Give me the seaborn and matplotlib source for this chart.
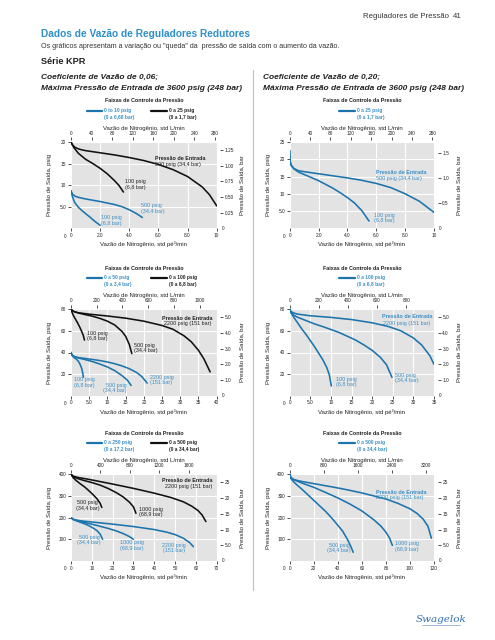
import matplotlib
matplotlib.use("Agg")
import matplotlib.pyplot as plt
import seaborn as sns

W, H = 495, 640
BLUE = "#1b74ad"
TBLUE = "#3b8fc5"
HBLUE = "#2e8fca"
BLACK = "#111111"
GRAY_BG = "#e3e3e3"
TXT = "#222222"
LPM = 28.3168   # L/min per std ft3/min
BAR = 14.5038   # psig per bar

# ---------------- data (flow in std ft3/min, outlet pressure in psig) ----------------
# Panel 1  (Cv 0.06) 0-25 psig range (black), 0-10 psig range (blue)
p1_k500_x = [0, 0.1, 0.3, 0.6, 1, 2, 3, 4, 5, 6, 7, 8, 9, 9.5, 10]
p1_k500_y = [20, 19.3, 18.7, 18.3, 18.0, 17.5, 17.0, 16.4, 15.7, 14.8, 13.6, 12.0, 9.6, 7.8, 5.2]
p1_k100_x = [0, 0.2, 0.5, 1.0, 1.5, 2.0, 2.5, 3.0, 3.3, 3.6]
p1_k100_y = [20, 18.7, 17.4, 16.0, 15.0, 13.9, 12.6, 11.0, 9.9, 8.4]
p1_b500_x = [0, 0.1, 0.3, 0.6, 1.0, 2.0, 3.0, 3.5, 4.0, 4.5, 4.9]
p1_b500_y = [8.7, 7.9, 7.4, 7.1, 6.8, 6.2, 5.5, 5.0, 4.3, 3.4, 2.5]
p1_b100_x = [0, 0.1, 0.25, 0.5, 0.75, 1.0, 1.3, 1.6, 2.0]
p1_b100_y = [8.7, 7.3, 6.0, 4.9, 4.1, 3.4, 2.6, 1.7, 0.7]

# Panel 2  (Cv 0.20) 0-25 psig range
p2_b500_x = [0, 0.02, 0.1, 0.3, 0.6, 1, 2, 3, 4, 5, 6, 7, 8, 9, 10]
p2_b500_y = [22.5, 19.5, 18.3, 17.3, 16.7, 16.4, 15.8, 15.2, 14.6, 13.9, 13.0, 11.8, 10.0, 7.8, 4.6]
p2_b100_x = [0, 0.02, 0.1, 0.3, 0.6, 1, 1.5, 2, 2.5, 3, 3.5, 4, 4.5, 5, 5.5]
p2_b100_y = [22.5, 19.5, 18.2, 17.2, 16.3, 15.6, 14.7, 13.8, 12.7, 11.6, 10.3, 8.9, 7.3, 5.1, 2.1]

# Panel 3  (Cv 0.06) 0-100 psig (black), 0-50 psig (blue)
p3_k2200_x = [0, 0.5, 1, 2, 5, 10, 15, 20, 25, 28, 31, 33, 35, 36.5, 38.2]
p3_k2200_y = [80, 78.5, 77.6, 76.8, 75.5, 73.8, 71.8, 69, 65, 61.5, 55.5, 50, 42, 34, 22]
p3_k500_x = [0, 0.5, 1, 2, 4, 6, 8, 10, 12, 14, 15, 16, 16.7]
p3_k500_y = [80, 78.5, 77.7, 76.6, 75, 73.5, 71.5, 69, 65.5, 59.5, 55, 47.5, 39]
p3_k100_x = [0, 0.3, 0.7, 1.2, 1.8, 2.4, 3.0, 3.4, 3.7]
p3_k100_y = [80, 77, 74, 71, 67.5, 63.5, 59, 55.5, 51.5]
p3_b2200_x = [0, 0.3, 1, 2, 4, 6, 8, 10, 12, 14, 16, 18, 19.5, 20.9]
p3_b2200_y = [40, 37.5, 36, 35.3, 34.4, 33.5, 32.5, 31.2, 29.6, 27.6, 25, 21.5, 17.5, 11.7]
p3_b500_x = [0, 0.3, 1, 2, 4, 6, 8, 10, 12, 14, 15.5, 16.5]
p3_b500_y = [40, 37.5, 36, 35, 33.3, 31.5, 29.2, 26.6, 23.2, 18.6, 14.3, 9.5]
p3_b100_x = [0, 0.3, 0.8, 1.4, 2.0, 2.5, 2.9, 3.2, 3.4]
p3_b100_y = [40, 37.3, 35.5, 34, 32, 29, 25.5, 21.5, 17]

# Panel 4  (Cv 0.20) 0-100 psig
p4_b2200_x = [0, 0.3, 1, 2, 5, 10, 15, 20, 24, 27, 30, 32, 34, 35]
p4_b2200_y = [80, 78, 76.5, 75.5, 74, 72.5, 70.5, 67.5, 64, 60, 53.5, 47, 37, 29]
p4_b500_x = [0, 0.3, 1, 2, 4, 6, 8, 10, 12, 14, 16, 18, 20, 22, 23.5, 24.8]
p4_b500_y = [80, 77, 74.5, 72.5, 69.5, 66.5, 64, 61.3, 58.5, 55, 51.5, 47, 42, 35.5, 28.5, 17]
p4_b100_x = [0, 0.3, 1, 2, 3, 4, 5, 6, 7, 8, 9, 9.6, 10.1]
p4_b100_y = [80, 77, 72.5, 67, 61.5, 56.5, 51, 45.5, 39.5, 33.5, 26, 19.5, 9]

# Panel 5  (Cv 0.06) 0-500 psig (black), 0-250 psig (blue)
p5_k2200_x = [0, 1, 3, 6, 10, 20, 30, 40, 48, 54, 58, 61, 63, 64.8]
p5_k2200_y = [400, 392, 386, 381, 374, 355, 335, 313, 293, 273, 253, 233, 212, 182]
p5_k1000_x = [0, 1, 3, 6, 10, 14, 18, 22, 25, 28, 30, 31.2]
p5_k1000_y = [400, 390, 381, 372, 362, 350, 334, 314, 296, 272, 250, 220]
p5_k500_x = [0, 1, 2.5, 4.5, 6.5, 8.5, 10.5, 12.5, 14, 14.8]
p5_k500_y = [400, 385, 371, 356, 342, 325, 307, 287, 266, 247]
p5_b2200_x = [0, 1, 3, 6, 10, 20, 30, 40, 46, 50, 54, 57, 58.8]
p5_b2200_y = [200, 193, 188, 184, 180, 170, 159, 145, 133, 122, 105, 85, 66]
p5_b1000_x = [0, 1, 3, 6, 10, 14, 18, 22, 25, 28, 30]
p5_b1000_y = [200, 192, 186, 179, 170, 160, 150, 138, 127, 113, 100]
p5_b500_x = [0, 1, 3, 5, 7, 9, 11, 12.5, 14, 15.2]
p5_b500_y = [200, 192, 184, 177, 170, 161, 150, 140, 124, 100]

# Panel 6  (Cv 0.20) 0-500 psig
p6_b2200_x = [0, 1, 3, 6, 10, 20, 30, 40, 50, 60, 70, 80, 90, 100, 106, 111, 115, 117.8]
p6_b2200_y = [400, 385, 377, 372, 367, 357, 347, 337, 326, 314, 300, 286, 266, 241, 219, 193, 160, 105]
p6_b1000_x = [0, 1, 3, 6, 10, 20, 30, 40, 50, 60, 70, 76, 80, 83, 85.4]
p6_b1000_y = [400, 384, 376, 369, 360, 340, 316, 291, 263, 231, 190, 160, 133, 106, 72]
p6_b500_x = [0, 1, 3, 6, 10, 15, 20, 25, 30, 35, 40, 44, 48, 51, 52.8]
p6_b500_y = [400, 380, 367, 351, 332, 306, 280, 254, 228, 198, 165, 138, 100, 65, 40]

# ---------------- ticks ----------------
p1_xticks = [0, 2, 4, 6, 8, 10]; p1_xlabels = ["0", "2.0", "4.0", "6.0", "8.0", "10"]
p1_yticks = [5, 10, 15, 20]; p1_ylabels = ["5.0", "10", "15", "20"]
p1_lticks = [0, 40, 80, 120, 160, 200, 240, 280]
p1_bticks = [0.25, 0.5, 0.75, 1.0, 1.25]; p1_blabels = ["0.25", "0.50", "0.75", "1.00", "1.25"]

p2_yticks = [5, 10, 15, 20, 25]; p2_ylabels = ["5.0", "10", "15", "20", "25"]
p2_bticks = [0.5, 1.0, 1.5]; p2_blabels = ["0.5", "1.0", "1.5"]

p3_xticks = [0, 5, 10, 15, 20, 25, 30, 35, 40]
p3_xlabels = ["0", "5.0", "10", "15", "20", "25", "30", "35", "40"]
p3_yticks = [20, 40, 60, 80]; p3_ylabels = ["20", "40", "60", "80"]
p3_lticks = [0, 200, 400, 600, 800, 1000]
p34_bticks = [1, 2, 3, 4, 5]; p34_blabels = ["1.0", "2.0", "3.0", "4.0", "5.0"]

p4_xticks = [0, 5, 10, 15, 20, 25, 30, 35]
p4_xlabels = ["0", "5.0", "10", "15", "20", "25", "30", "35"]
p4_lticks = [0, 200, 400, 600, 800]

p5_xticks = [0, 10, 20, 30, 40, 50, 60, 70]
p5_xlabels = ["0", "10", "20", "30", "40", "50", "60", "70"]
p56_yticks = [100, 200, 300, 400]; p56_ylabels = ["100", "200", "300", "400"]
p5_lticks = [0, 400, 800, 1200, 1600]
p56_bticks = [5, 10, 15, 20, 25]; p56_blabels = ["5.0", "10", "15", "20", "25"]

p6_xticks = [0, 20, 40, 60, 80, 100, 120]
p6_xlabels = ["0", "20", "40", "60", "80", "100", "120"]
p6_lticks = [0, 800, 1600, 2400, 3200]

# ---------------- figure ----------------
sns.set_theme(style="darkgrid")
plt.rcParams["font.family"] = ["Liberation Sans", "DejaVu Sans"]
fig = plt.figure(figsize=(W / 100, H / 100), dpi=100)
fig.patch.set_facecolor("white")


def T(x, y, s, size=3.9, color=TXT, ha="left", va="center", weight="normal",
      style="normal", rotation=0, family=None):
    kw = {}
    if family:
        kw["family"] = family
    fig.text(x / W, 1 - y / H, s, fontsize=size, color=color, ha=ha, va=va,
             fontweight=weight, fontstyle=style, rotation=rotation, **kw)


def panel(box, xmax, ymax, xt, xtl, yt, ytl, lt, bt, btl, curves):
    x0, y0, x1, y1 = box
    ax = fig.add_axes([x0 / W, 1 - y1 / H, (x1 - x0) / W, (y1 - y0) / H])
    ax.set_facecolor(GRAY_BG)
    for xs, ys, c in curves:
        sns.lineplot(x=xs, y=ys, ax=ax, color=c, lw=1.15, sort=False,
                     estimator=None, zorder=3)
    ax.set_xlim(0, xmax)
    ax.set_ylim(0, ymax)
    ax.set_xticks(xt)
    ax.set_xticklabels(xtl)
    ax.set_yticks(yt)
    ax.set_yticklabels(ytl)
    ax.set_xlabel("")
    ax.set_ylabel("")
    ax.grid(True, color="white", lw=0.8)
    for s in ax.spines.values():
        s.set_visible(False)
    ax.tick_params(axis="both", which="both", length=2.2, width=0.6, color="#333333",
                   labelsize=3.4, labelcolor=TXT, pad=1.2, direction="out",
                   bottom=True, left=True)
    top = ax.secondary_xaxis(1.02, functions=(lambda c: c * LPM, lambda l: l / LPM))
    top.set_xticks(lt)
    top.set_xticklabels([str(v) for v in lt])
    top.tick_params(length=2.2, width=0.6, color="#333333", labelsize=3.4,
                    labelcolor=TXT, pad=0.8)
    for s in top.spines.values():
        s.set_visible(False)
    right = ax.secondary_yaxis(1.025, functions=(lambda p: p / BAR, lambda b: b * BAR))
    right.set_yticks(bt)
    right.set_yticklabels(btl)
    right.tick_params(length=2.2, width=0.6, color="#333333", labelsize=3.4,
                      labelcolor=TXT, pad=1.2)
    for s in right.spines.values():
        s.set_visible(False)
    # corner zeros, axis titles
    T(x0 - 7, y1 + 8, "0", size=3.4)
    T(x1 + 5, y1, "0", size=3.4)
    mid = (y0 + y1) / 2
    T(x0 - 21, mid, "Pressão de Saída, psig", size=4.3, ha="center", rotation=90)
    T(x1 + 25, mid, "Pressão de Saída, bar", size=4.3, ha="center", rotation=90)
    cx = (x0 + x1) / 2
    T(cx, y1 + 16, "Vazão de Nitrogênio, std pé³/min", size=4.3, ha="center")
    T(cx, y0 - 13.5, "Vazão de Nitrogênio, std L/min", size=4.3, ha="center")
    T(cx, y0 - 41, "Faixas de Controle da Pressão", size=3.9, ha="center", weight="bold")
    return ax


def legend2(box, blue_txt, black_txt):
    x0, y0, x1, y1 = box
    r1, r2 = y0 - 31.5, y0 - 25
    fig.add_artist(plt.Line2D([(x0 + 16) / W, (x0 + 31) / W], [1 - r1 / H] * 2,
                              color=BLUE, lw=1.6))
    T(x0 + 33, r1, blue_txt[0], size=3.5, color=TBLUE, weight="bold")
    T(x0 + 33, r2, blue_txt[1], size=3.5, color=TBLUE, weight="bold")
    fig.add_artist(plt.Line2D([(x0 + 80) / W, (x0 + 96) / W], [1 - r1 / H] * 2,
                              color=BLACK, lw=1.6))
    T(x0 + 98, r1, black_txt[0], size=3.5, color=TXT, weight="bold")
    T(x0 + 98, r2, black_txt[1], size=3.5, color=TXT, weight="bold")


def legend1(box, blue_txt):
    x0, y0, x1, y1 = box
    r1, r2 = y0 - 31.5, y0 - 25
    fig.add_artist(plt.Line2D([(x0 + 49) / W, (x0 + 65) / W], [1 - r1 / H] * 2,
                              color=BLUE, lw=1.6))
    T(x0 + 67, r1, blue_txt[0], size=3.5, color=TBLUE, weight="bold")
    T(x0 + 67, r2, blue_txt[1], size=3.5, color=TBLUE, weight="bold")


# ---------------- page header ----------------
T(363, 17, "Reguladores de Pressão", size=5.6, color="#333333")
T(453, 17, "41", size=5.6, color="#333333")
T(41, 34, "Dados de Vazão de Reguladores Redutores", size=7.3, color=HBLUE, weight="bold")
T(41, 47, 'Os gráficos apresentam a variação ou "queda" da  pressão de saída com o aumento da vazão.',
  size=5.1, color="#333333")
T(41, 61, "Série KPR", size=6.6, color=TXT, weight="bold")
T(41, 77, "Coeficiente de Vazão de 0,06;", size=6.0, weight="bold", style="italic")
T(41, 88, "Máxima Pressão de Entrada de 3600 psig (248 bar)", size=6.0, weight="bold", style="italic")
T(263, 77, "Coeficiente de Vazão de 0,20;", size=6.0, weight="bold", style="italic")
T(263, 88, "Máxima Pressão de Entrada de 3600 psig (248 bar)", size=6.0, weight="bold", style="italic")
fig.add_artist(plt.Line2D([253 / W, 253 / W], [1 - 70 / H, 1 - 590 / H], color="#c4c4c4", lw=0.9))

# ---------------- panels ----------------
B1 = (71, 142, 216.7, 228.3)
B2 = (289.7, 142, 434, 228.3)
B3 = (71, 309.3, 216.7, 395.7)
B4 = (289.7, 309.3, 434, 395.7)
B5 = (71, 474.3, 216.7, 561)
B6 = (289.7, 474.3, 434, 561)

panel(B1, 10, 20, p1_xticks, p1_xlabels, p1_yticks, p1_ylabels, p1_lticks, p1_bticks, p1_blabels,
      [(p1_k500_x, p1_k500_y, BLACK), (p1_k100_x, p1_k100_y, BLACK),
       (p1_b500_x, p1_b500_y, BLUE), (p1_b100_x, p1_b100_y, BLUE)])
legend2(B1, ("0 to 10 psig", "(0 a 0,68 bar)"), ("0 a 25 psig", "(0 a 1,7 bar)"))
T(155, 158, "Pressão de Entrada", weight="bold")
T(155, 164.5, "500 psig (34,4 bar)")
T(125, 181.5, "100 psig"); T(125, 187, "(6,8 bar)")
T(140.7, 206, "500 psig", color=TBLUE); T(140.7, 211.5, "(34,4 bar)", color=TBLUE)
T(100.7, 217.7, "100 psig", color=TBLUE); T(100.7, 223, "(6,8 bar)", color=TBLUE)

panel(B2, 10, 25, p1_xticks, p1_xlabels, p2_yticks, p2_ylabels, p1_lticks, p2_bticks, p2_blabels,
      [(p2_b500_x, p2_b500_y, BLUE), (p2_b100_x, p2_b100_y, BLUE)])
legend1(B2, ("0 a 25 psig", "(0 a 1,7 bar)"))
T(375.7, 172.7, "Pressão de Entrada", color=TBLUE, weight="bold")
T(375.7, 178.3, "500 psig (34,4 bar)", color=TBLUE)
T(374, 215, "100 psig", color=TBLUE); T(374, 220.5, "(6,8 bar)", color=TBLUE)

panel(B3, 40, 80, p3_xticks, p3_xlabels, p3_yticks, p3_ylabels, p3_lticks, p34_bticks, p34_blabels,
      [(p3_k2200_x, p3_k2200_y, BLACK), (p3_k500_x, p3_k500_y, BLACK), (p3_k100_x, p3_k100_y, BLACK),
       (p3_b2200_x, p3_b2200_y, BLUE), (p3_b500_x, p3_b500_y, BLUE), (p3_b100_x, p3_b100_y, BLUE)])
legend2(B3, ("0 a 50 psig", "(0 a 3,4 bar)"), ("0 a 100 psig", "(0 a 6,8 bar)"))
T(213, 318, "Pressão de Entrada", weight="bold", ha="right")
T(211, 324, "2200 psig (151 bar)", ha="right")
T(87.3, 333.3, "100 psig"); T(87.3, 338.7, "(6,8 bar)")
T(134.3, 345, "500 psig"); T(134.3, 350.4, "(34,4 bar)")
T(150, 377.3, "2200 psig", color=TBLUE); T(150, 382.7, "(151 bar)", color=TBLUE)
T(127, 385, "500 psig", color=TBLUE, ha="right"); T(127, 390.4, "(34,4 bar)", color=TBLUE, ha="right")
T(74, 380, "100 psig", color=TBLUE); T(74, 385.5, "(6,8 bar)", color=TBLUE)

panel(B4, 35, 80, p4_xticks, p4_xlabels, p3_yticks, p3_ylabels, p4_lticks, p34_bticks, p34_blabels,
      [(p4_b2200_x, p4_b2200_y, BLUE), (p4_b500_x, p4_b500_y, BLUE), (p4_b100_x, p4_b100_y, BLUE)])
legend1(B4, ("0 a 100 psig", "(0 a 6,8 bar)"))
T(432, 316.7, "Pressão de Entrada", color=TBLUE, weight="bold", ha="right")
T(430, 323, "2200 psig (151 bar)", color=TBLUE, ha="right")
T(336, 379.3, "100 psig", color=TBLUE); T(336, 384.8, "(6,8 bar)", color=TBLUE)
T(395, 375, "500 psig", color=TBLUE); T(395, 380.5, "(34,4 bar)", color=TBLUE)

panel(B5, 70, 400, p5_xticks, p5_xlabels, p56_yticks, p56_ylabels, p5_lticks, p56_bticks, p56_blabels,
      [(p5_k2200_x, p5_k2200_y, BLACK), (p5_k1000_x, p5_k1000_y, BLACK), (p5_k500_x, p5_k500_y, BLACK),
       (p5_b2200_x, p5_b2200_y, BLUE), (p5_b1000_x, p5_b1000_y, BLUE), (p5_b500_x, p5_b500_y, BLUE)])
legend2(B5, ("0 a 250 psig", "(0 a 17,2 bar)"), ("0 a 500 psig", "(0 a 34,4 bar)"))
T(213, 481, "Pressão de Entrada", weight="bold", ha="right")
T(212, 486.7, "2200 psig (151 bar)", ha="right")
T(87.5, 502.7, "500 psig", ha="center"); T(87.5, 508.2, "(34,4 bar)", ha="center")
T(139.3, 509, "1000 psig"); T(139.3, 514.5, "(68,9 bar)")
T(89, 537, "500 psig", color=TBLUE, ha="center"); T(89, 542.5, "(34,4 bar)", color=TBLUE, ha="center")
T(120, 542.7, "1000 psig", color=TBLUE); T(120, 548.2, "(68,9 bar)", color=TBLUE)
T(174, 545, "2200 psig", color=TBLUE, ha="center"); T(174, 550.5, "(151 bar)", color=TBLUE, ha="center")

panel(B6, 120, 400, p6_xticks, p6_xlabels, p56_yticks, p56_ylabels, p6_lticks, p56_bticks, p56_blabels,
      [(p6_b2200_x, p6_b2200_y, BLUE), (p6_b1000_x, p6_b1000_y, BLUE), (p6_b500_x, p6_b500_y, BLUE)])
legend1(B6, ("0 a 500 psig", "(0 a 34,4 bar)"))
T(376, 492.3, "Pressão de Entrada", color=TBLUE, weight="bold")
T(376, 498, "2200 psig (151 bar)", color=TBLUE)
T(339, 545, "500 psig", color=TBLUE, ha="center"); T(339, 550.5, "(34,4 bar)", color=TBLUE, ha="center")
T(395, 544, "1000 psig", color=TBLUE); T(395, 549.5, "(68,9 bar)", color=TBLUE)

# logo
T(441, 619, "Swagelok", size=7.5, color="#2f6fb0", ha="center", style="italic", family="DejaVu Serif")
fig.add_artist(plt.Line2D([422 / W, 460 / W], [1 - 625 / H] * 2, color="#8fb3d6", lw=0.6))

fig.savefig("out.png", dpi=100, facecolor="white")
